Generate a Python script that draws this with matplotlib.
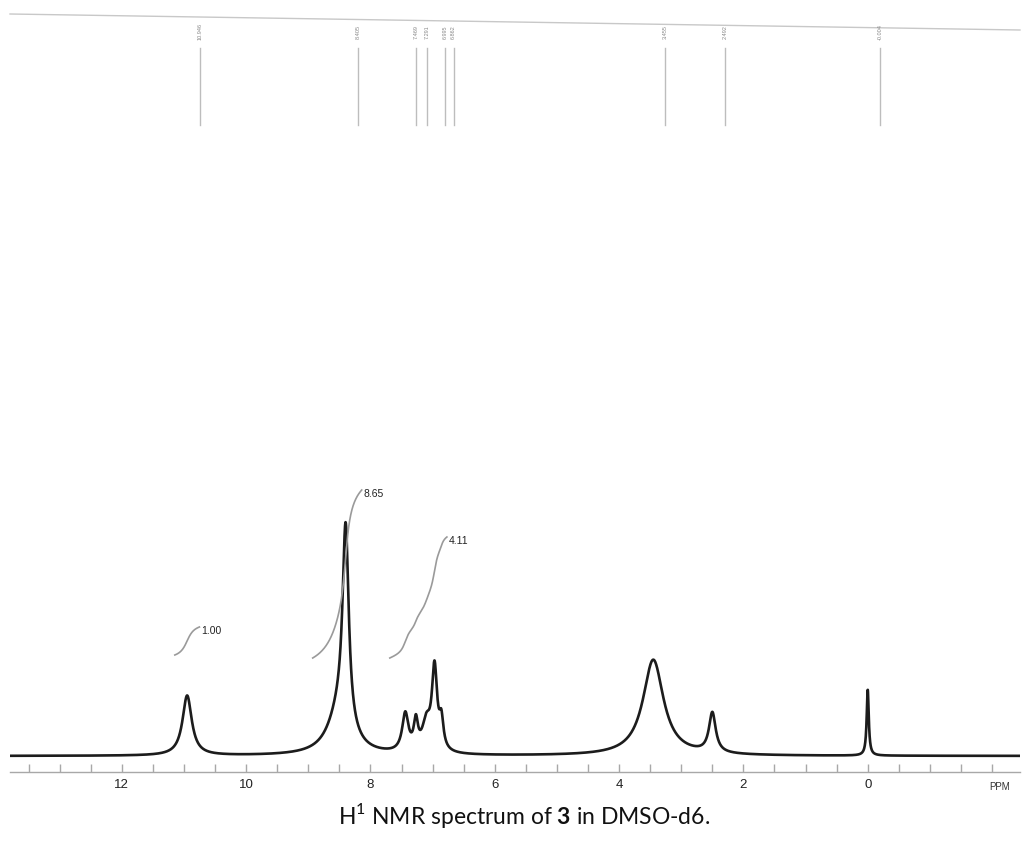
import numpy as np
import matplotlib
matplotlib.use("Agg")
import matplotlib.pyplot as plt
from matplotlib.ticker import MultipleLocator, FuncFormatter

# ---- data ----
peak_ppm = [10.95, 8.40, 8.50, 7.44, 7.27, 7.10, 6.97, 6.86, 3.45, 2.50, 0.00]
peak_height = [60, 200, 40, 38, 28, 28, 82, 28, 96, 40, 66]
peak_hwhm = [0.09, 0.06, 0.22, 0.06, 0.04, 0.08, 0.05, 0.04, 0.20, 0.065, 0.02]

label_ppm = [10.946, 8.405, 7.469, 7.291, 6.995, 6.862, 3.455, 2.492, -0.004]
label_text = ["10.946", "8.405", "7.469", "7.291", "6.995", "6.862", "3.455", "2.492", "-0.004"]

integral_start = [11.15, 8.93, 7.69]
integral_end = [10.75, 8.14, 6.77]
integral_text = ["1.00", "8.65", "4.11"]
integral_base = [101, 98, 98]
integral_rise = [28, 168, 121]

tick_values = [12, 10, 8, 6, 4, 2, 0]

plt.rcParams["mathtext.fontset"] = "custom"
plt.rcParams["mathtext.rm"] = "Lato"
plt.rcParams["mathtext.bf"] = "Lato:bold"

fig = plt.figure(figsize=(10.23, 8.5), dpi=100)
ax = fig.add_axes([10 / 1023, 78 / 850, 1010 / 1023, 772 / 850])
ax.set_xlim(13.8, -2.45)
ax.set_ylim(-16, 756)

ppm = np.linspace(13.8, -2.45, 6000)
spec = np.zeros_like(ppm)
for c, h, g in zip(peak_ppm, peak_height, peak_hwhm):
    spec += h * g**2 / ((ppm - c) ** 2 + g**2)

ax.plot(ppm, spec, color="#1c1c1c", lw=1.9)

# integral curves
for s, e, t, b, r in zip(integral_start, integral_end, integral_text, integral_base, integral_rise):
    m = (ppm <= s) & (ppm >= e)
    cum = np.cumsum(spec[m])
    cum = (cum - cum[0]) / (cum[-1] - cum[0])
    ax.plot(ppm[m], b + r * cum, color="#9a9a9a", lw=1.2)
    ax.text(e - 0.03, b + r - 4, t, fontsize=7.5, family="Liberation Sans",
            ha="left", va="center", color="#222")

# peak pick labels at top
for p, t in zip(label_ppm, label_text):
    ax.plot([p - 0.2, p - 0.2], [631, 708], color="#bdbdbd", lw=1.0, clip_on=False)
    ax.text(p - 0.2, 724, t, rotation=90, fontsize=4, color="#888",
            ha="center", va="center", family="Liberation Sans")

# top border line
ax.plot([13.8, -2.45], [742, 726], color="#c8c8c8", lw=1.0, clip_on=False)

for sp in ["left", "right", "top"]:
    ax.spines[sp].set_visible(False)
ax.spines["bottom"].set_color("#a8a8a8")
ax.spines["bottom"].set_linewidth(1.0)
ax.set_yticks([])

ax.xaxis.set_major_locator(MultipleLocator(0.5))
ax.xaxis.set_major_formatter(FuncFormatter(
    lambda v, pos: (str(int(round(v))) if any(abs(v - tv) < 1e-6 for tv in tick_values) else "")))
ax.tick_params(axis="x", direction="in", length=6, width=1, color="#a8a8a8",
               labelsize=9.5, pad=5, labelcolor="#222")
for lab in ax.get_xticklabels():
    lab.set_family("Liberation Sans")

fig.text(1000 / 1023, 1 - 787 / 850, "PPM", fontsize=7, family="Liberation Sans",
         ha="center", va="center", color="#333")

fig.text(524 / 1023, 1 - 815 / 850, r"H$^{1}$ NMR spectrum of $\mathbf{3}$ in DMSO-d6.",
         fontsize=16.5, family="Lato", ha="center", va="center", color="#111")

fig.savefig("out.png", dpi=100)
